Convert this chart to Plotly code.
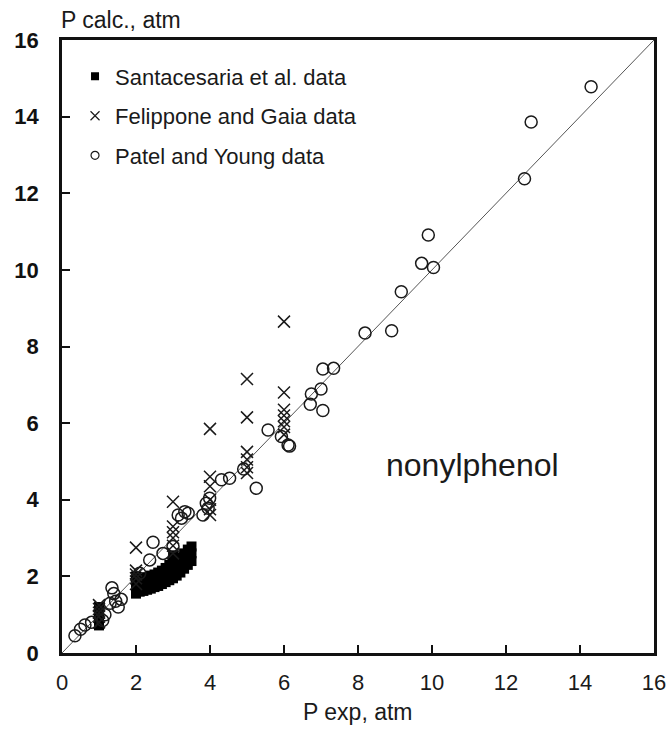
import plotly.graph_objects as go

# Santacesaria et al. data (filled squares)
sant_x = [1.0, 1.0, 1.0, 1.0, 1.0, 1.0,
          2.0, 2.0, 2.0, 2.0, 2.1, 2.1, 2.1, 2.2, 2.2, 2.2, 2.3, 2.3, 2.3,
          2.4, 2.4, 2.4, 2.5, 2.5, 2.5, 2.6, 2.6, 2.6, 2.7, 2.7, 2.7,
          2.8, 2.8, 2.8, 2.9, 2.9, 2.9, 3.0, 3.0, 3.0, 3.0,
          3.1, 3.1, 3.1, 3.2, 3.2, 3.2, 3.3, 3.3, 3.3, 3.4, 3.4, 3.4, 3.5, 3.5, 3.5]
sant_y = [0.72, 0.82, 0.92, 1.02, 1.12, 1.2,
          1.55, 1.7, 1.85, 2.0, 1.6, 1.75, 1.9, 1.62, 1.78, 1.95, 1.65, 1.8, 1.98,
          1.68, 1.85, 2.02, 1.72, 1.88, 2.05, 1.75, 1.92, 2.1, 1.8, 1.97, 2.15,
          1.85, 2.02, 2.22, 1.9, 2.08, 2.3, 1.95, 2.15, 2.35, 2.55,
          2.02, 2.22, 2.42, 2.1, 2.3, 2.5, 2.2, 2.4, 2.6, 2.3, 2.5, 2.7, 2.4, 2.6, 2.78]

# Felippone and Gaia data (crosses)
fel_x = [1.0, 1.0, 1.0, 1.0, 1.0,
         2.0, 2.0, 2.0, 2.0, 2.0,
         3.0, 3.0, 3.0, 3.0, 3.0, 3.0,
         4.0, 4.0, 4.0, 4.0, 4.0, 4.0,
         5.0, 5.0, 5.0, 5.0, 5.0, 5.0,
         6.0, 6.0, 6.0, 6.0, 6.0, 6.0, 6.0]
fel_y = [0.8, 0.95, 1.05, 1.15, 1.25,
         1.8, 1.95, 2.05, 2.15, 2.75,
         2.6, 2.8, 3.0, 3.15, 3.3, 3.95,
         3.6, 3.75, 4.0, 4.35, 4.6, 5.85,
         4.7, 4.85, 5.05, 5.25, 6.15, 7.15,
         5.7, 5.9, 6.05, 6.2, 6.35, 6.8, 8.65]

# Patel and Young data (open circles)
pat_x = [0.35, 0.5, 0.62, 0.8, 1.1, 1.16, 1.3, 1.35, 1.4, 1.45, 1.52, 1.6,
         2.1, 2.37, 2.46, 2.73, 3.0, 3.14, 3.23, 3.32, 3.41, 3.81,
         3.9, 3.95, 3.99, 4.31, 4.53, 4.91, 5.25, 5.57, 5.93, 6.11, 6.15,
         6.71, 6.74, 7.0, 7.05, 7.05, 7.34,
         8.19, 8.91, 9.17, 9.72, 9.9, 10.04, 12.5, 12.68, 14.3]
pat_y = [0.45, 0.62, 0.73, 0.8, 0.85, 1.0, 1.3, 1.7, 1.55, 1.35, 1.2, 1.4,
         2.08, 2.43, 2.89, 2.6, 2.78, 3.6, 3.52, 3.69, 3.65, 3.6,
         3.91, 3.78, 4.04, 4.52, 4.56, 4.8, 4.3, 5.82, 5.65, 5.43, 5.4,
         6.49, 6.76, 6.89, 7.41, 6.33, 7.43,
         8.35, 8.41, 9.43, 10.17, 10.91, 10.06, 12.38, 13.86, 14.78]

series_names = ["Santacesaria et al. data", "Felippone and Gaia data", "Patel and Young data"]

diag = [0, 16]
x_ticks = [0, 2, 4, 6, 8, 10, 12, 14, 16]
y_ticks = [0, 2, 4, 6, 8, 10, 12, 14, 16]

FONT = "Liberation Sans, Arial, sans-serif"
INK = "#1a1a1a"

sq = dict(symbol="square", size=10, color="black", line=dict(width=0))
xm = dict(symbol="x-thin-open", size=12, color=INK, line=dict(width=1.5, color=INK))
ci = dict(symbol="circle-open", size=12, color=INK, line=dict(width=1.5, color=INK))
leg_markers = [dict(symbol="square", size=8, color="black", line=dict(width=0)),
               dict(symbol="x-thin-open", size=9, color=INK, line=dict(width=1.2, color=INK)),
               dict(symbol="circle-open", size=8, color=INK, line=dict(width=1.2, color=INK))]

fig = go.Figure()
fig.add_trace(go.Scatter(x=diag, y=diag, mode="lines",
                         line=dict(color="#555555", width=1), showlegend=False,
                         hoverinfo="skip"))
for xs, ys, mk, nm in [(sant_x, sant_y, sq, series_names[0]),
                       (fel_x, fel_y, xm, series_names[1]),
                       (pat_x, pat_y, ci, series_names[2])]:
    fig.add_trace(go.Scatter(x=xs, y=ys, mode="markers", name=nm, marker=mk,
                             showlegend=False))
# legend entries (smaller legend symbols, as in the original)
for i, nm in enumerate(series_names):
    fig.add_trace(go.Scatter(x=[None], y=[None], mode="markers", name=nm,
                             marker=leg_markers[i], legendgroup=f"g{i}"))

fig.add_annotation(x=11.1, y=4.9, xref="x", yref="y", text="nonylphenol",
                   showarrow=False, font=dict(family=FONT, size=32, color=INK))
fig.add_annotation(x=0, y=1, xref="paper", yref="paper", text="P calc., atm",
                   showarrow=False, xanchor="left", yanchor="bottom", yshift=5, xshift=-3,
                   font=dict(family=FONT, size=23, color=INK))
fig.add_annotation(x=0.5, y=0, xref="paper", yref="paper", text="P exp, atm",
                   showarrow=False, xanchor="center", yanchor="top", yshift=-44,
                   font=dict(family=FONT, size=23, color=INK))

axis_common = dict(range=[0, 16], showgrid=False, zeroline=False, showline=True,
                   linecolor="#111111", linewidth=2.5, mirror=True, automargin=False,
                   ticks="inside", ticklen=8, tickwidth=1.5, tickcolor="#111111")

fig.update_xaxes(**axis_common, tickvals=x_ticks, ticklabelstandoff=8,
                 tickfont=dict(family=FONT, size=22, color=INK))
fig.update_yaxes(**axis_common, tickvals=y_ticks, ticklabelstandoff=16,
                 tickfont=dict(family=FONT, size=22, color="#111111", weight="bold"))

fig.update_layout(
    width=671, height=729,
    margin=dict(l=62, r=17, t=40, b=76, autoexpand=False),
    plot_bgcolor="white", paper_bgcolor="white",
    legend=dict(x=0.022, y=0.975, xanchor="left", yanchor="top",
                font=dict(family=FONT, size=22, color=INK),
                bgcolor="rgba(0,0,0,0)", tracegroupgap=8),
)

fig.write_html("out.html", config={"displayModeBar": False},
               post_script="document.body.style.margin='0';"
                           "document.body.style.overflow='hidden';")
